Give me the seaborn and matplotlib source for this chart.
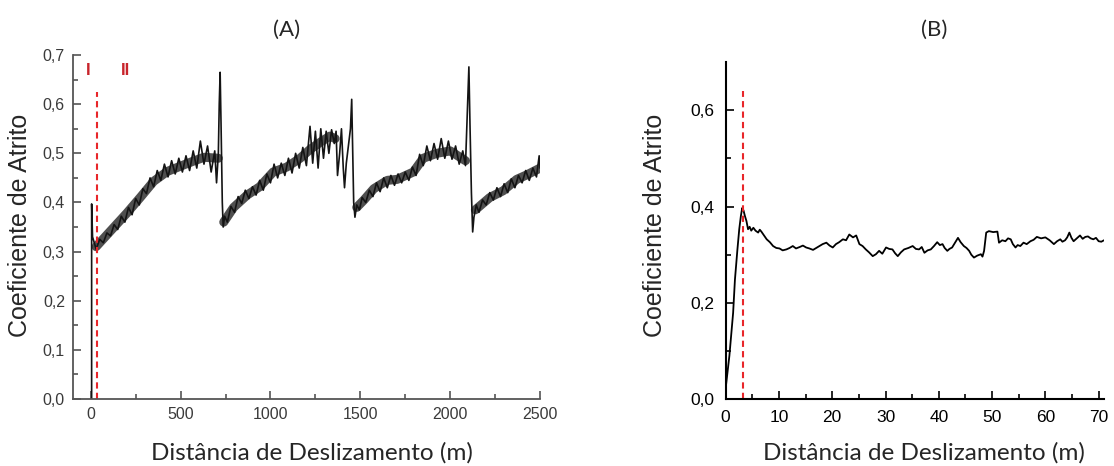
import numpy as np
import pandas as pd
import matplotlib
matplotlib.use("Agg")
import matplotlib.pyplot as plt
import seaborn as sns

# ---------------- dados ----------------
# (A) coeficiente de atrito vs distancia (0 - 2500 m), sinal com ruido
dist_a = [5, 5, 10, 18, 25,
          30, 50, 70, 90, 110, 130, 150, 170, 190, 210, 230, 250, 270, 290, 310, 330,
          350, 370, 390, 410, 430, 450, 470, 490, 510, 530, 550, 570, 590, 610, 630,
          650, 670, 690, 700, 710, 715, 720, 725, 732, 737,
          745, 760, 780, 800, 820, 840, 860, 880, 900, 920, 940, 960, 980, 1000,
          1020, 1040, 1060, 1080, 1100, 1120, 1140, 1160, 1180, 1200, 1220, 1235,
          1250, 1265, 1280, 1295, 1310, 1325, 1340, 1355, 1365, 1373, 1385, 1395,
          1405, 1412, 1422, 1435, 1445, 1452, 1458, 1463, 1470,
          1480, 1495, 1510, 1530, 1550, 1570, 1590, 1610, 1630, 1650, 1670, 1690,
          1710, 1730, 1750, 1770, 1790, 1810, 1830, 1850, 1870, 1890, 1910, 1930,
          1950, 1970, 1990, 2010, 2030, 2050, 2070, 2085, 2092, 2100, 2104, 2110,
          2118, 2125, 2132,
          2145, 2160, 2180, 2200, 2220, 2240, 2260, 2280, 2300, 2320, 2340, 2360,
          2380, 2400, 2420, 2440, 2460, 2480, 2495, 2500]
coef_a = [0.0, 0.397, 0.330, 0.320, 0.312,
          0.305, 0.325, 0.318, 0.338, 0.332, 0.355, 0.345, 0.372, 0.360, 0.390, 0.375,
          0.408, 0.395, 0.428, 0.418, 0.450,
          0.432, 0.465, 0.445, 0.478, 0.452, 0.485, 0.458, 0.490, 0.462, 0.495, 0.465,
          0.505, 0.470, 0.525, 0.478,
          0.515, 0.462, 0.505, 0.440, 0.500, 0.600, 0.665, 0.560, 0.400, 0.350,
          0.372, 0.360, 0.392, 0.380, 0.412, 0.398, 0.425, 0.408, 0.432, 0.415, 0.445,
          0.425, 0.458, 0.440,
          0.478, 0.450, 0.480, 0.455, 0.490, 0.460, 0.500, 0.470, 0.512, 0.475, 0.555,
          0.480,
          0.545, 0.470, 0.550, 0.490, 0.545, 0.500, 0.548, 0.520, 0.545, 0.455, 0.500,
          0.550,
          0.470, 0.430, 0.480, 0.520, 0.550, 0.610, 0.500, 0.400, 0.370,
          0.395, 0.385, 0.410, 0.400, 0.425, 0.412, 0.440, 0.422, 0.450, 0.430, 0.455,
          0.435,
          0.458, 0.440, 0.462, 0.445, 0.472, 0.455, 0.498, 0.475, 0.515, 0.485, 0.520,
          0.488,
          0.530, 0.490, 0.525, 0.488, 0.515, 0.478, 0.505, 0.475, 0.550, 0.640, 0.676,
          0.560,
          0.420, 0.340, 0.370,
          0.395, 0.380, 0.405, 0.395, 0.420, 0.405, 0.430, 0.412, 0.438, 0.420, 0.448,
          0.430,
          0.455, 0.440, 0.465, 0.445, 0.470, 0.452, 0.495, 0.470]

# (A) linha media da faixa de ruido, por trecho
trecho_a = [1] * 10 + [2] * 11 + [3] * 11 + [4] * 6
media_dist_a = [30, 100, 200, 275, 350, 425, 500, 570, 630, 710,
                740, 795, 870, 940, 1015, 1090, 1165, 1220, 1275, 1330, 1360,
                1480, 1520, 1575, 1650, 1705, 1795, 1850, 1925, 2000, 2055, 2085,
                2140, 2220, 2295, 2370, 2425, 2500]
media_coef_a = [0.310, 0.338, 0.378, 0.410, 0.443, 0.463, 0.474, 0.484, 0.492, 0.490,
                0.360, 0.390, 0.415, 0.432, 0.462, 0.472, 0.490, 0.508, 0.522, 0.535, 0.530,
                0.390, 0.405, 0.428, 0.445, 0.447, 0.462, 0.490, 0.500, 0.505, 0.492, 0.485,
                0.385, 0.410, 0.424, 0.447, 0.456, 0.470]

# (B) coeficiente de atrito vs distancia (0 - 71 m)
dist_b = [0.0, 0.7, 1.4, 1.74, 2.2, 2.55, 2.85, 3.1, 3.35, 3.6,
          3.9, 4.2, 4.5, 4.8, 5.2, 5.6, 6.1, 6.4, 6.7, 7.2,
          7.7, 8.3, 8.9, 9.5, 10.1, 10.7, 11.4, 12.0, 12.6, 13.2,
          13.9, 14.5, 15.1, 15.7, 16.4, 17.0, 17.6, 18.2, 18.9, 19.5,
          20.1, 20.7, 21.3, 22.0, 22.6, 23.2, 23.9, 24.5, 25.1, 25.7,
          26.3, 26.9, 27.6, 28.2, 28.8, 29.4, 30.1, 30.7, 31.3, 31.8,
          32.3, 32.9, 33.5, 34.3, 35.1, 35.7, 36.3, 36.8, 37.3, 37.9,
          38.5, 39.1, 39.7, 40.2, 40.7, 41.1, 41.6, 42.0, 42.5, 43.0,
          43.6, 44.1, 44.7, 45.2, 45.7, 46.1, 46.6, 47.2, 47.9, 48.2,
          48.5, 48.9, 49.4, 50.2, 51.0, 51.3, 51.9, 52.5, 53.0, 53.5,
          53.9, 54.4, 54.8, 55.3, 55.9, 56.5, 57.2, 57.8, 58.4, 59.2,
          60.0, 60.8, 61.6, 62.2, 62.8, 63.2, 63.7, 64.1, 64.5, 64.9,
          65.3, 65.7, 66.1, 66.5, 67.0, 67.5, 68.0, 68.5, 69.0, 69.5,
          70.0, 70.5, 71.0]
coef_b = [0.022, 0.090, 0.179, 0.248, 0.310, 0.353, 0.380, 0.397, 0.392, 0.381,
          0.370, 0.353, 0.358, 0.350, 0.356, 0.350, 0.346, 0.352, 0.348, 0.340,
          0.332, 0.326, 0.318, 0.314, 0.313, 0.309, 0.311, 0.314, 0.318, 0.313,
          0.316, 0.319, 0.315, 0.313, 0.310, 0.314, 0.318, 0.322, 0.325, 0.319,
          0.315, 0.322, 0.326, 0.332, 0.330, 0.342, 0.336, 0.340, 0.322, 0.318,
          0.311, 0.305, 0.297, 0.301, 0.308, 0.302, 0.315, 0.312, 0.311, 0.303,
          0.297, 0.305, 0.311, 0.314, 0.318, 0.312, 0.311, 0.316, 0.304, 0.309,
          0.311, 0.318, 0.326, 0.320, 0.322, 0.314, 0.308, 0.312, 0.315, 0.324,
          0.335, 0.326, 0.318, 0.314, 0.308, 0.300, 0.294, 0.298, 0.301, 0.296,
          0.308, 0.346, 0.349, 0.347, 0.348, 0.325, 0.330, 0.328, 0.334, 0.332,
          0.322, 0.315, 0.320, 0.318, 0.325, 0.322, 0.328, 0.331, 0.337, 0.334,
          0.336, 0.330, 0.322, 0.328, 0.332, 0.327, 0.330, 0.336, 0.346, 0.335,
          0.328, 0.332, 0.336, 0.340, 0.333, 0.337, 0.338, 0.334, 0.332, 0.335,
          0.328, 0.327, 0.330]

# limites entre regioes (linhas tracejadas)
limite_a, topo_limite_a = 33, 0.624
limite_b, topo_limite_b = 3.2, 0.64

yticks_a = [0.0, 0.1, 0.2, 0.3, 0.4, 0.5, 0.6, 0.7]
ylabels_a = ['0,0', '0,1', '0,2', '0,3', '0,4', '0,5', '0,6', '0,7']
xticks_a = [0, 500, 1000, 1500, 2000, 2500]
yticks_b = [0.0, 0.2, 0.4, 0.6]
ylabels_b = ['0,0', '0,2', '0,4', '0,6']
xticks_b = [0, 10, 20, 30, 40, 50, 60, 70]

sns.set_theme(style="ticks")
plt.rcParams['font.family'] = ['Liberation Sans', 'DejaVu Sans']

fig = plt.figure(figsize=(11.14, 4.66), dpi=100)
ax_a = fig.add_axes([0.0658, 0.1438, 0.419, 0.738])
ax_b = fig.add_axes([0.6514, 0.1438, 0.3396, 0.7225])

df_a = pd.DataFrame({'dist': dist_a, 'coef': coef_a})
df_media = pd.DataFrame({'dist': media_dist_a, 'coef': media_coef_a, 'trecho': trecho_a})
df_b = pd.DataFrame({'dist': dist_b, 'coef': coef_b})

# faixa escura (media) + sinal com ruido por cima
sns.lineplot(data=df_media, x='dist', y='coef', units='trecho', ax=ax_a, sort=False,
             estimator=None, color='#303030', linewidth=6.5, alpha=0.85)
sns.lineplot(data=df_a, x='dist', y='coef', ax=ax_a, sort=False, estimator=None,
             color='#141414', linewidth=1.2)
sns.lineplot(data=df_b, x='dist', y='coef', ax=ax_b, sort=False, estimator=None,
             color='black', linewidth=1.3)

ax_a.vlines(limite_a, 0, topo_limite_a, colors='#e8262a', linestyles=(0, (3, 2)), linewidth=1.5)
ax_b.vlines(limite_b, 0, topo_limite_b, colors='#e8262a', linestyles=(0, (3, 2)), linewidth=1.5)

ax_a.text(-13, 0.668, 'I', color='#c8242b', fontsize=12, fontweight='bold',
          ha='center', va='center')
ax_a.text(195, 0.668, 'II', color='#c8242b', fontsize=12, fontweight='bold',
          ha='center', va='center')

# eixo A (cinza, estilo Origin)
ax_a.set_xlim(-97, 2500)
ax_a.set_ylim(0, 0.7)
ax_a.set_yticks(yticks_a)
ax_a.set_yticklabels(ylabels_a)
ax_a.set_xticks(xticks_a)
ax_a.set_xticks(np.arange(250, 2500, 500), minor=True)
ax_a.set_yticks(np.arange(0.05, 0.7, 0.1), minor=True)
ax_a.tick_params(which='both', direction='in', colors='#555555', labelcolor='#3a3a3a',
                 labelsize=11.5, width=1.2)
ax_a.tick_params(which='major', length=6, pad=6)
ax_a.tick_params(which='minor', length=3.5)
for s in ['left', 'bottom']:
    ax_a.spines[s].set_color('#555555')
    ax_a.spines[s].set_linewidth(1.3)
sns.despine(ax=ax_a)

# eixo B
ax_b.set_xlim(0, 71)
ax_b.set_ylim(0, 0.7)
ax_b.set_yticks(yticks_b)
ax_b.set_yticklabels(ylabels_b)
ax_b.set_xticks(xticks_b)
ax_b.set_xticks(np.arange(5, 71, 10), minor=True)
ax_b.set_yticks([0.1, 0.3, 0.5], minor=True)
ax_b.tick_params(which='both', direction='in', colors='black', labelsize=12.5, width=1.2)
ax_b.tick_params(which='major', length=6, pad=8)
ax_b.tick_params(which='minor', length=3.5)
for s in ['left', 'bottom']:
    ax_b.spines[s].set_color('black')
    ax_b.spines[s].set_linewidth(1.5)
sns.despine(ax=ax_b)

for ax in (ax_a, ax_b):
    ax.set_xlabel('')
    ax.set_ylabel('')

fig.text(0.018, 0.517, 'Coeficiente de Atrito', rotation=90, fontsize=18,
         ha='center', va='center')
fig.text(0.588, 0.517, 'Coeficiente de Atrito', rotation=90, fontsize=18,
         ha='center', va='center')
fig.text(0.2576, 0.9356, '(A)', fontsize=16, family=['Lato', 'DejaVu Sans'],
         ha='center', va='center')
fig.text(0.839, 0.9356, '(B)', fontsize=16, family=['Lato', 'DejaVu Sans'],
         ha='center', va='center')
fig.text(0.28, 0.028, 'Distância de Deslizamento (m)', fontsize=17.5,
         family=['Lato', 'DejaVu Sans'], ha='center', va='center')
fig.text(0.829, 0.028, 'Distância de Deslizamento (m)', fontsize=17.5,
         family=['Lato', 'DejaVu Sans'], ha='center', va='center')

fig.savefig('out.png', dpi=100)
